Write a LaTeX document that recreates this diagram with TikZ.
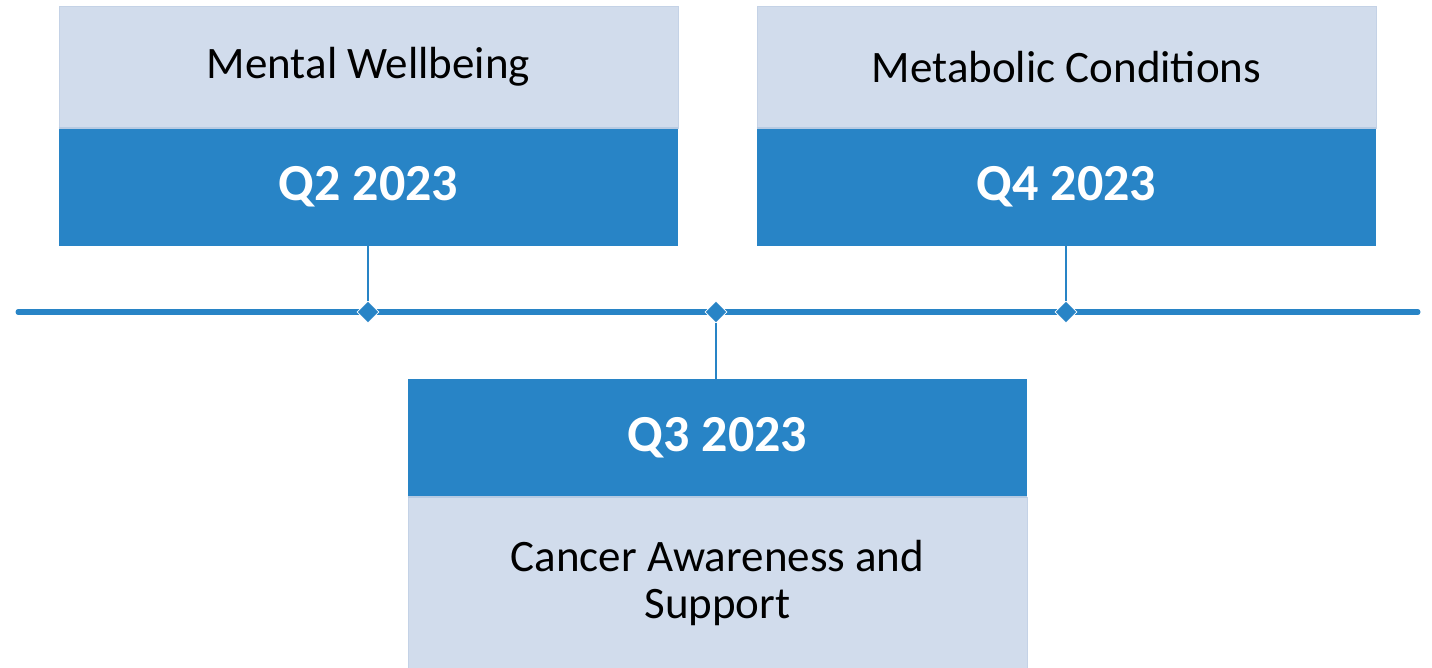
\documentclass[tikz,border=0pt]{standalone}
\usepackage{fontspec}
\setmainfont{Carlito}
\usetikzlibrary{shapes.geometric}
\definecolor{tlblue}{RGB}{40,132,198}
\definecolor{tllight}{RGB}{209,220,236}
\definecolor{tledge}{RGB}{196,210,230}
\definecolor{tldiv}{RGB}{182,202,226}
\tikzset{
  lightbox/.style={rectangle, fill=tllight, draw=tledge, line width=0.8pt, inner sep=0pt,
    minimum width=619pt, align=center, text=black, font=\fontsize{45}{47}\selectfont},
  darkbox/.style={rectangle, fill=tlblue, inner sep=0pt, minimum width=619pt,
    minimum height=118pt, text=white, font=\fontsize{52}{56}\selectfont\bfseries},
  marker/.style={diamond, fill=tlblue, draw=white, line width=0.8pt, inner sep=0pt,
    minimum width=22pt, minimum height=22pt},
  axis/.style={draw=tlblue, line width=5pt, line cap=round},
  conn/.style={draw=tlblue, line width=2.2pt},
  divline/.style={draw=tldiv, line width=2pt}
}
\begin{document}
\begin{tikzpicture}[x=1pt,y=-1pt]
\useasboundingbox (0,0) rectangle (1432,668);
% timeline
\coordinate (tl) at (18,312);
\coordinate (tr) at (1418,312);
\draw[axis] (tl) -- (tr);
% boxes
\node[lightbox, minimum height=122pt] (t2) at (368.5,67) {Mental Wellbeing};
\node[darkbox] (q2) at (368.5,187) {Q2 2023};
\node[lightbox, minimum height=122pt] (t4) at (1066.5,67) {Metabolic Conditions};
\node[darkbox] (q4) at (1066.5,187) {Q4 2023};
\node[darkbox] (q3) at (717.5,438) {Q3 2023};
\node[lightbox, minimum height=171pt] (t3) at (717.5,582.5) {Cancer Awareness and\\Support};
% dividers
\draw[divline] (t2.south west) -- (t2.south east);
\draw[divline] (t4.south west) -- (t4.south east);
\draw[divline] (t3.north west) -- (t3.north east);
% markers
\node[marker] (d2) at (368,312) {};
\node[marker] (d3) at (716,312) {};
\node[marker] (d4) at (1066,312) {};
% connectors
\draw[conn] (d2.north) -- (d2.north |- q2.south);
\draw[conn] (d4.north) -- (d4.north |- q4.south);
\draw[conn] (d3.south) -- (d3.south |- q3.north);
\end{tikzpicture}
\end{document}
